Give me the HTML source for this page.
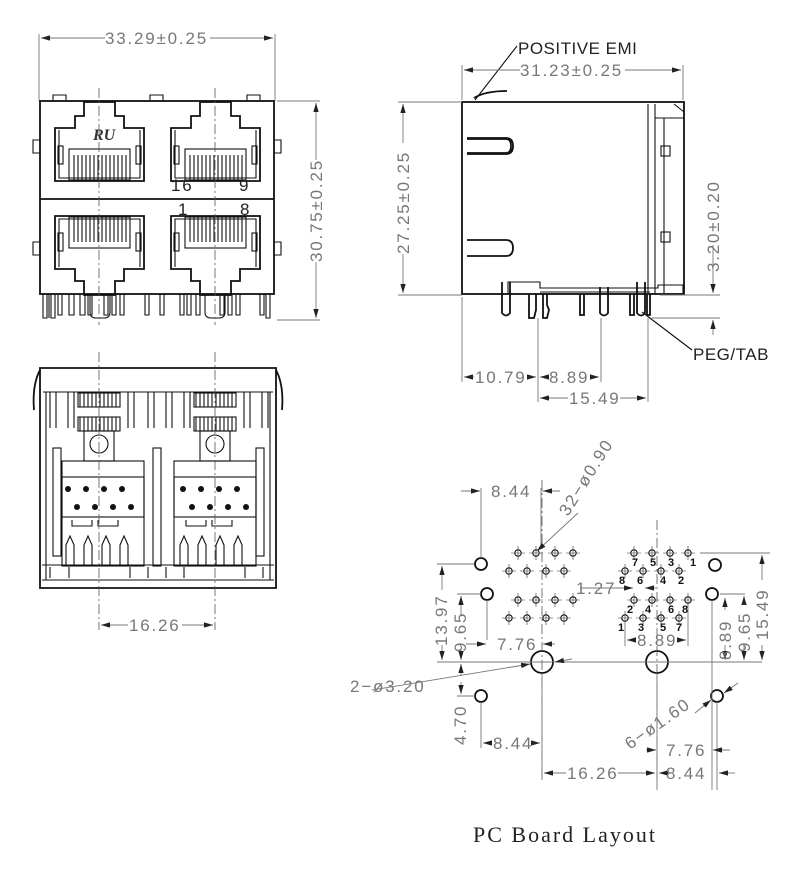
<!DOCTYPE html>
<html><head><meta charset="utf-8"><style>
html,body{margin:0;padding:0;background:#fff}
svg{display:block}
.d{font-family:"Liberation Sans",sans-serif;font-size:17px;fill:#777;letter-spacing:1.8px}
.k{stroke:#111;fill:none;stroke-width:1.8}
.t{stroke:#111;fill:none;stroke-width:1.1}
.g{stroke:#777;fill:none;stroke-width:0.9}
.c{stroke:#555;fill:none;stroke-width:0.8;stroke-dasharray:10 3 2 3}
.n{font-family:"Liberation Sans",sans-serif;font-size:11px;font-weight:bold;fill:#111}
</style></head><body>
<svg width="800" height="870" viewBox="0 0 800 870" xmlns="http://www.w3.org/2000/svg">
<defs>
<marker id="a" viewBox="0 0 10 6" refX="10" refY="3" markerWidth="10" markerHeight="6" orient="auto-start-reverse"><path d="M0,0L10,3L0,6z" fill="#222"/></marker>
<g id="jack">
<path class="k" d="M84,102H115V116H124V128H144V181H55V128H75V116H84Z"/>
<path class="t" d="M59,130V178H140V130"/>
<rect class="t" x="69" y="149" width="61" height="31"/>
<g class="t"><path d="M74,155V180M78,155V180M82,155V180M86,155V180M90,155V180M94,155V180M98,155V180M102,155V180M106,155V180M110,155V180M114,155V180M118,155V180M122,155V180M126,155V180"/></g>
<rect class="t" x="58" y="146" width="5" height="18"/><rect class="t" x="136" y="146" width="5" height="18"/>
</g>
<g id="pin"><circle cx="0" cy="0" r="3.2" class="t" stroke-width="1.3"/><path d="M-7,0H7M0,-7V7" stroke="#333" stroke-width="0.6"/></g>
</defs>

<!-- FRONT VIEW -->
<path class="g" d="M39,34V101M275,34V101"/>
<line class="g" x1="41" y1="38" x2="105" y2="38" marker-start="url(#a)"/>
<line class="g" x1="210" y1="38" x2="273" y2="38" marker-end="url(#a)"/>
<text class="d" x="105" y="44">33.29±0.25</text>
<rect class="k" x="40" y="101" width="234" height="193"/>
<line class="k" x1="40" y1="199" x2="274" y2="199"/>
<path class="t" d="M53,101V95H66V101M150,101V95H163V101M247,101V95H260V101"/>
<path class="t" d="M40,140H33V153H40M274,140H281V153H274M40,242H33V255H40M274,242H281V255H274"/>
<use href="#jack"/>
<use href="#jack" transform="translate(116,0)"/>
<use href="#jack" transform="translate(0,397) scale(1,-1)"/>
<use href="#jack" transform="translate(116,397) scale(1,-1)"/>
<text x="93" y="140" font-family="Liberation Serif,serif" font-size="16" font-style="italic" font-weight="bold" fill="#333">RU</text>
<text class="d" x="171" y="191" style="fill:#222">16</text>
<text class="d" x="239" y="191" style="fill:#222">9</text>
<text class="d" x="178" y="215" style="fill:#222">1</text>
<text class="d" x="240" y="215" style="fill:#222">8</text>
<g class="t">
<path d="M43,294V318H47V294M49,294V318M51,294V318H55V294M58,294V315H62V294M69,294V315H74V294M80,294V315H85V294M88,294V315H92V294M104,294V315H108V294M112,294V315H116V294M120,294V315H124V294M145,294V315H149V294M160,294V315H164V294M180,294V315H184V294M187,294V315H191V294M196,294V315H200V294M220,294V315H224V294M228,294V315H232V294M236,294V315H240V294M260,294V315H264V294M266,294V318H270V294"/>
<path d="M90,294V312Q90,318 96,318H104Q110,318 110,312V294M205,294V312Q205,318 211,318H219Q225,318 225,312V294"/>
</g>
<path class="c" d="M99,88V325M215,88V325"/>
<path class="g" d="M277,101H320M277,320H320"/>
<line class="g" x1="316" y1="103" x2="316" y2="160" marker-start="url(#a)"/>
<line class="g" x1="316" y1="262" x2="316" y2="318" marker-end="url(#a)"/>
<text class="d" transform="translate(322,262) rotate(-90)">30.75±0.25</text>

<!-- SIDE VIEW -->
<text x="518" y="54" font-family="Liberation Sans,sans-serif" font-size="17" fill="#222" letter-spacing="0.5">POSITIVE  EMI</text>
<path class="t" d="M517,46L475,100"/>
<path class="k" d="M474,98Q485,91 507,91"/>
<path class="g" d="M462,65V100M683,65V100"/>
<line class="g" x1="464" y1="70" x2="520" y2="70" marker-start="url(#a)"/>
<line class="g" x1="625" y1="70" x2="681" y2="70" marker-end="url(#a)"/>
<text class="d" x="520" y="76">31.23±0.25</text>
<rect class="k" x="462" y="102" width="222" height="192"/>
<path class="t" d="M648,104V293M655,104V293M655,118H684M664,118V293M674,104L684,112"/>
<rect class="t" x="661" y="146" width="9" height="10"/><rect class="t" x="661" y="232" width="9" height="10"/>
<path class="k" d="M467,138H506Q513,138 513,146Q513,154 506,154H467M467,139H506Q511,139 511,146Q511,153 506,153H467"/>
<path class="k" d="M467,240H506Q513,240 513,248Q513,256 506,256H467"/>
<path class="t" d="M508,294V282H540V288H658V285H683V294M540,292H650"/>
<path class="k" d="M502,282V313Q506,318 510,313V282M529,294V318H534L536,310V294M543,294V318H547L549,310L547,305V294M580,294V315H584V294M600,287V313Q604,318 608,313V287M630,294V315H634V294M637,282V313Q641,318 645,313V282M647,294V315H650V294"/>
<path class="t" d="M642,312L692,350"/>
<text x="693" y="360" font-family="Liberation Sans,sans-serif" font-size="17" fill="#222" letter-spacing="0.5">PEG/TAB</text>
<path class="g" d="M398,102H462M398,295H462"/>
<line class="g" x1="403" y1="104" x2="403" y2="143" marker-start="url(#a)"/>
<line class="g" x1="403" y1="254" x2="403" y2="293" marker-end="url(#a)"/>
<text class="d" transform="translate(409,254) rotate(-90)">27.25±0.25</text>
<path class="g" d="M660,295H720M652,318H720"/>
<line class="g" x1="713" y1="278" x2="713" y2="293" marker-end="url(#a)"/>
<line class="g" x1="713" y1="335" x2="713" y2="320" marker-end="url(#a)"/>
<path class="g" d="M713,245V278"/>
<text class="d" transform="translate(719,272) rotate(-90)">3.20±0.20</text>
<path class="g" d="M462,297V382M538,318V402M601,318V382M648,318V402"/>
<line class="g" x1="464" y1="377" x2="474" y2="377" marker-start="url(#a)"/>
<text class="d" x="475" y="383">10.79</text>
<line class="g" x1="527" y1="377" x2="536" y2="377" marker-end="url(#a)"/>
<line class="g" x1="540" y1="377" x2="548" y2="377" marker-start="url(#a)"/>
<text class="d" x="549" y="383">8.89</text>
<line class="g" x1="592" y1="377" x2="599" y2="377" marker-end="url(#a)"/>
<line class="g" x1="540" y1="398" x2="568" y2="398" marker-start="url(#a)"/>
<text class="d" x="569" y="404">15.49</text>
<line class="g" x1="620" y1="398" x2="646" y2="398" marker-end="url(#a)"/>

<!-- BOTTOM VIEW -->
<path class="k" d="M40,368H276V588H40Z"/>
<path class="t" d="M43,392H273M46,392V580M270,392V580M42,565H274M42,580H274"/>
<path class="k" d="M40,370Q32,385 34,410M276,370Q284,385 282,410"/>
<g class="t">
<rect x="78" y="393" width="42" height="14"/><rect x="78" y="417" width="42" height="14"/>
<rect x="194" y="393" width="42" height="14"/><rect x="194" y="417" width="42" height="14"/>
<path d="M80,393V407M84,393V407M88,393V407M92,393V407M96,393V407M100,393V407M104,393V407M108,393V407M112,393V407M116,393V407M80,417V431M84,417V431M88,417V431M92,417V431M96,417V431M100,417V431M104,417V431M108,417V431M112,417V431M116,417V431"/>
<path d="M196,393V407M200,393V407M204,393V407M208,393V407M212,393V407M216,393V407M220,393V407M224,393V407M228,393V407M232,393V407M196,417V431M200,417V431M204,417V431M208,417V431M212,417V431M216,417V431M220,417V431M224,417V431M228,417V431M232,417V431"/>
<path d="M50,392V428M56,392V428M68,392V428M74,392V428M128,392V428M134,392V428M148,392V428M154,392V428M166,392V428M172,392V428M184,392V428M190,392V428M244,392V428M250,392V428M262,392V428M268,392V428"/>
<rect x="84" y="431" width="30" height="30"/><rect x="200" y="431" width="30" height="30"/>
<circle cx="99" cy="444" r="9"/><circle cx="215" cy="444" r="9"/>
<rect x="53" y="448" width="8" height="108"/><rect x="153" y="448" width="8" height="118"/><rect x="256" y="448" width="8" height="108"/>
<rect x="62" y="461" width="82" height="105"/><rect x="62" y="477" width="82" height="40"/>
<rect x="174" y="461" width="82" height="105"/><rect x="174" y="477" width="82" height="40"/>
<path d="M66,566V545L70,536L74,545V566M84,566V545L88,536L92,545V566M102,566V545L106,536L110,545V566M120,566V545L124,536L128,545V566"/>
<path d="M180,566V545L184,536L188,545V566M198,566V545L202,536L206,545V566M216,566V545L220,536L224,545V566M234,566V545L238,536L242,545V566"/>
<path d="M72,520V526H92V520M98,520V526H118V520M186,520V526H206V520M212,520V526H232V520"/>
<path d="M50,567V578M69,567V578M130,567V578M148,567V578M166,567V578M184,567V578M245,567V578M263,567V578"/>
</g>
<g fill="#111">
<circle cx="68" cy="489" r="3"/><circle cx="86" cy="489" r="3"/><circle cx="104" cy="489" r="3"/><circle cx="122" cy="489" r="3"/>
<circle cx="77" cy="507" r="3"/><circle cx="95" cy="507" r="3"/><circle cx="113" cy="507" r="3"/><circle cx="131" cy="507" r="3"/>
<circle cx="183" cy="489" r="3"/><circle cx="201" cy="489" r="3"/><circle cx="219" cy="489" r="3"/><circle cx="237" cy="489" r="3"/>
<circle cx="192" cy="507" r="3"/><circle cx="210" cy="507" r="3"/><circle cx="228" cy="507" r="3"/><circle cx="246" cy="507" r="3"/>
</g>
<path class="c" d="M99,352V630M215,352V630"/>
<line class="g" x1="101" y1="625" x2="128" y2="625" marker-start="url(#a)"/>
<text class="d" x="129" y="631">16.26</text>
<line class="g" x1="182" y1="625" x2="213" y2="625" marker-end="url(#a)"/>

<!-- PCB LAYOUT -->
<g>
<use href="#pin" x="518" y="553"/><use href="#pin" x="536" y="553"/><use href="#pin" x="555" y="553"/><use href="#pin" x="573" y="553"/>
<use href="#pin" x="509" y="571"/><use href="#pin" x="527" y="571"/><use href="#pin" x="546" y="571"/><use href="#pin" x="564" y="571"/>
<use href="#pin" x="518" y="600"/><use href="#pin" x="536" y="600"/><use href="#pin" x="555" y="600"/><use href="#pin" x="573" y="600"/>
<use href="#pin" x="509" y="618"/><use href="#pin" x="527" y="618"/><use href="#pin" x="546" y="618"/><use href="#pin" x="564" y="618"/>
<use href="#pin" x="634" y="553"/><use href="#pin" x="652" y="553"/><use href="#pin" x="670" y="553"/><use href="#pin" x="688" y="553"/>
<use href="#pin" x="625" y="571"/><use href="#pin" x="643" y="571"/><use href="#pin" x="661" y="571"/><use href="#pin" x="679" y="571"/>
<use href="#pin" x="634" y="600"/><use href="#pin" x="652" y="600"/><use href="#pin" x="670" y="600"/><use href="#pin" x="688" y="600"/>
<use href="#pin" x="625" y="618"/><use href="#pin" x="643" y="618"/><use href="#pin" x="661" y="618"/><use href="#pin" x="679" y="618"/>
</g>
<g class="k" stroke-width="1.6">
<circle cx="481" cy="564" r="6"/><circle cx="487" cy="594" r="6"/><circle cx="481" cy="696" r="6"/>
<circle cx="715" cy="565" r="6"/><circle cx="712" cy="594" r="6"/><circle cx="717" cy="696" r="6"/>
<circle cx="542" cy="662" r="11"/><circle cx="657" cy="662" r="11"/>
</g>
<g class="n">
<text x="632" y="566">7</text><text x="650" y="566">5</text><text x="668" y="566">3</text><text x="690" y="566">1</text>
<text x="619" y="584">8</text><text x="637" y="584">6</text><text x="660" y="584">4</text><text x="678" y="584">2</text>
<text x="627" y="613">2</text><text x="645" y="613">4</text><text x="668" y="613">6</text><text x="682" y="613">8</text>
<text x="618" y="631">1</text><text x="638" y="631">3</text><text x="660" y="631">5</text><text x="676" y="631">7</text>
</g>
<path class="c" d="M542,480V780M657,520V780"/>
<path class="g" d="M481,488V558M541,488V545M461,491H480M542,491H560"/>
<line class="g" x1="466" y1="491" x2="480" y2="491" marker-end="url(#a)"/>
<text class="d" x="491" y="497">8.44</text>
<line class="g" x1="555" y1="491" x2="543" y2="491" marker-end="url(#a)"/>
<line class="g" x1="578" y1="513" x2="537" y2="551" marker-end="url(#a)"/>
<text class="d" transform="translate(568,517) rotate(-58)">32−ø0.90</text>
<path class="g" d="M437,564H474M457,594H481M437,662H762M457,696H475M487,600V640"/>
<line class="g" x1="442" y1="590" x2="442" y2="566" marker-end="url(#a)"/>
<line class="g" x1="442" y1="645" x2="442" y2="660" marker-end="url(#a)"/>
<text class="d" transform="translate(447,646) rotate(-90)">13.97</text>
<line class="g" x1="461" y1="615" x2="461" y2="596" marker-end="url(#a)"/>
<line class="g" x1="461" y1="650" x2="461" y2="660" marker-end="url(#a)"/>
<text class="d" transform="translate(466,652) rotate(-90)">9.65</text>
<line class="g" x1="461" y1="676" x2="461" y2="664" marker-end="url(#a)"/>
<line class="g" x1="461" y1="682" x2="461" y2="694" marker-end="url(#a)"/>
<text class="d" transform="translate(466,745) rotate(-90)">4.70</text>
<line class="g" x1="466" y1="644" x2="486" y2="644" marker-end="url(#a)"/>
<text class="d" x="497" y="650">7.76</text>
<line class="g" x1="555" y1="644" x2="543" y2="644" marker-end="url(#a)"/>
<path class="g" d="M481,702V748M542,674V780"/>
<line class="g" x1="483" y1="743" x2="492" y2="743" marker-start="url(#a)"/>
<text class="d" x="493" y="749">8.44</text>
<line class="g" x1="532" y1="743" x2="540" y2="743" marker-end="url(#a)"/>
<line class="g" x1="372" y1="690" x2="530" y2="664" marker-end="url(#a)"/>
<line class="g" x1="572" y1="659" x2="555" y2="662" marker-end="url(#a)"/>
<text class="d" x="350" y="692">2−ø3.20</text>
<line class="g" x1="580" y1="588" x2="633" y2="588" marker-end="url(#a)"/>
<line class="g" x1="656" y1="588" x2="645" y2="588" marker-end="url(#a)"/>
<text class="d" x="576" y="594">1.27</text>
<path class="g" d="M625,622V646M688,604V646"/>
<line class="g" x1="635" y1="640" x2="627" y2="640" marker-end="url(#a)"/>
<text class="d" x="637" y="646">8.89</text>
<line class="g" x1="678" y1="640" x2="686" y2="640" marker-end="url(#a)"/>
<path class="g" d="M700,553H770M720,594H745M712,600V790"/>
<line class="g" x1="725" y1="610" x2="725" y2="598" marker-end="url(#a)"/>
<line class="g" x1="725" y1="645" x2="725" y2="660" marker-end="url(#a)"/>
<text class="d" transform="translate(731,660) rotate(-90)">8.89</text>
<line class="g" x1="744" y1="605" x2="744" y2="596" marker-end="url(#a)"/>
<line class="g" x1="744" y1="645" x2="744" y2="660" marker-end="url(#a)"/>
<text class="d" transform="translate(750,652) rotate(-90)">9.65</text>
<line class="g" x1="762" y1="580" x2="762" y2="555" marker-end="url(#a)"/>
<line class="g" x1="762" y1="645" x2="762" y2="660" marker-end="url(#a)"/>
<text class="d" transform="translate(768,640) rotate(-90)">15.49</text>
<path class="g" d="M717,702V790M657,674V790"/>
<line class="g" x1="738" y1="683" x2="724" y2="693" marker-end="url(#a)"/>
<line class="g" x1="695" y1="713" x2="711" y2="700" marker-end="url(#a)"/>
<text class="d" transform="translate(630,750) rotate(-35)">6−ø1.60</text>
<line class="g" x1="646" y1="750" x2="656" y2="750" marker-end="url(#a)"/>
<text class="d" x="666" y="756">7.76</text>
<line class="g" x1="730" y1="750" x2="713" y2="750" marker-end="url(#a)"/>
<line class="g" x1="544" y1="773" x2="566" y2="773" marker-start="url(#a)"/>
<text class="d" x="567" y="779">16.26</text>
<line class="g" x1="618" y1="773" x2="655" y2="773" marker-end="url(#a)"/>
<line class="g" x1="659" y1="773" x2="665" y2="773" marker-start="url(#a)"/>
<text class="d" x="666" y="779">8.44</text>
<line class="g" x1="735" y1="773" x2="719" y2="773" marker-end="url(#a)"/>

<text x="473" y="842" font-family="Liberation Serif,serif" font-size="22" fill="#222" letter-spacing="2">PC Board Layout</text>
</svg>
</body></html>
